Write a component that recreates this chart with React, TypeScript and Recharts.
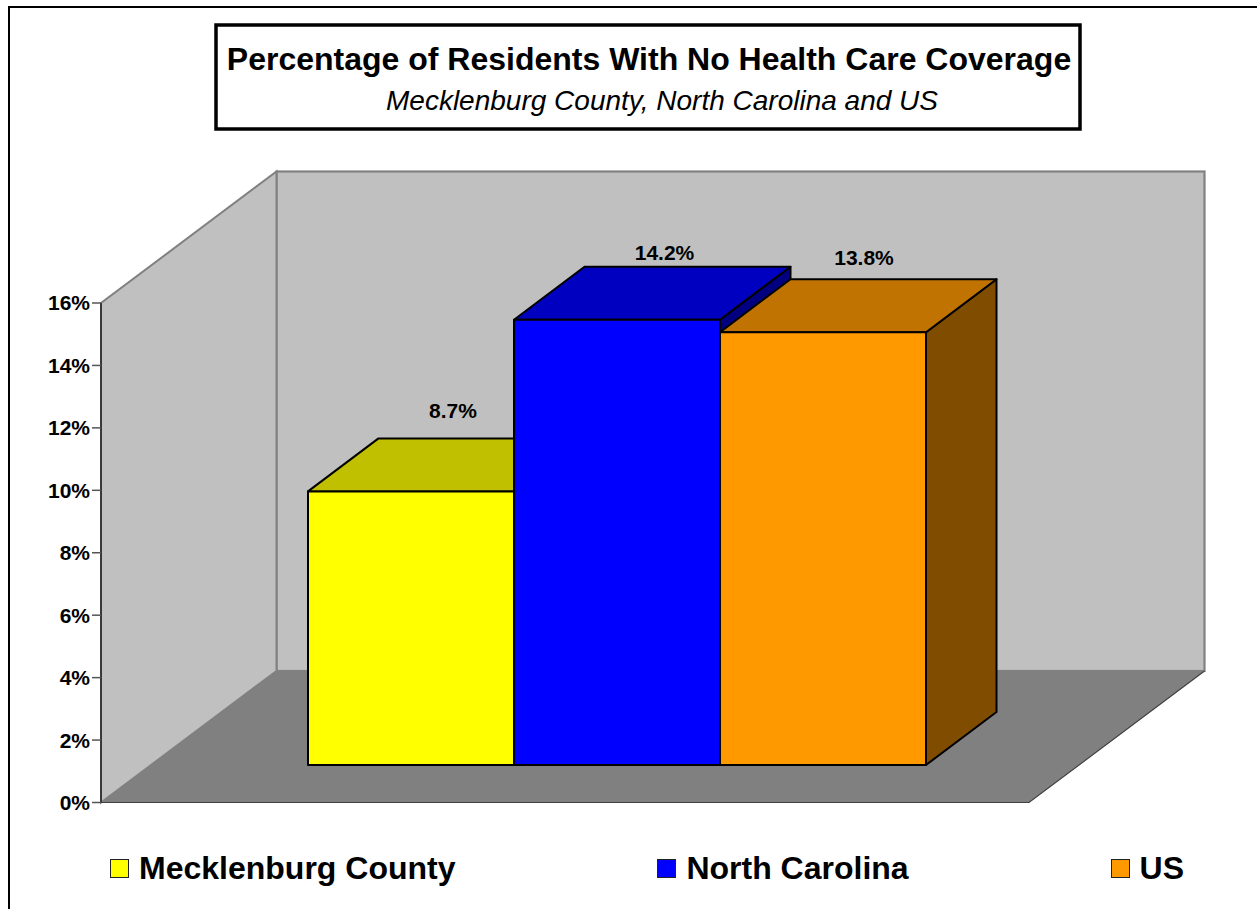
import React from 'react';
import { BarChart, Bar, XAxis, YAxis, Legend, LabelList, Customized, usePlotArea } from 'recharts';

const FONT = '"Liberation Sans", Arial, sans-serif';
const W = 1257;
const H = 909;

const titleText = 'Percentage of Residents With No Health Care Coverage';
const subtitleText = 'Mecklenburg County, North Carolina and US';
const category = 'Residents with no coverage';
const seriesNames = ['Mecklenburg County', 'North Carolina', 'US'];
const seriesValues = [8.7, 14.2, 13.8];
const yTicks = [0, 2, 4, 6, 8, 10, 12, 14, 16];
const frontColors = ['#FFFF00', '#0000FF', '#FF9900'];
const topColors = ['#C0C000', '#0000C0', '#C07300'];
const sideColors = ['#808000', '#000080', '#804D00'];

const row: Record<string, any> = { name: category };
seriesNames.forEach((n, i) => { row[n] = seriesValues[i]; });
const tableData = [row];

// 3D projection constants
const WALL_DX = 175.5;
const WALL_DY = -131.5;
const BAR_SHIFT_X = 52.5;
const BAR_BASE_SHIFT_Y = -37.5;
const BAR_TOP_SHIFT_Y = -39.5;
const BAR_DX = 70.5;
const BAR_DY = -53;
const LABEL_NUDGE = [
  { dx: 42, dy: -81 },
  { dx: 47.5, dy: -67 },
  { dx: 41, dy: -75 },
];

function Walls() {
  const p = usePlotArea();
  if (!p) return null;
  const l = p.x;
  const r = p.x + p.width;
  const t = p.y;
  const b = p.y + p.height;
  return (
    <g>
      <rect x={l + WALL_DX} y={t + WALL_DY} width={p.width} height={p.height} fill="#C0C0C0" stroke="#808080" strokeWidth={2.2} />
      <polygon points={`${l},${b} ${l},${t} ${l + WALL_DX},${t + WALL_DY} ${l + WALL_DX},${b + WALL_DY}`} fill="#C0C0C0" stroke="#808080" strokeWidth={2} />
      <polygon points={`${l},${b} ${r},${b} ${r + WALL_DX},${b + WALL_DY} ${l + WALL_DX},${b + WALL_DY}`} fill="#808080" />
      <polyline points={`${l},${b} ${r},${b} ${r + WALL_DX},${b + WALL_DY}`} fill="none" stroke="#404040" strokeWidth={1.2} />
    </g>
  );
}

function Frame() {
  return (
    <g>
      <rect x={9} y={7} width={W + 20} height={H + 20} fill="none" stroke="#000" strokeWidth={2} />
      <rect x={216} y={25} width={864} height={104} fill="#fff" stroke="#000" strokeWidth={3.5} />
      <text x={649} y={70} textAnchor="middle" fontFamily={FONT} fontWeight="bold" fontSize={32} fill="#000">{titleText}</text>
      <text x={662} y={109.5} textAnchor="middle" fontFamily={FONT} fontStyle="italic" fontSize={28} fill="#000">{subtitleText}</text>
    </g>
  );
}

function Bar3D(props: any) {
  const { x, y, width, height, fill, index3 } = props;
  const left = x + BAR_SHIFT_X;
  const right = left + width;
  const top = y + BAR_TOP_SHIFT_Y;
  const bottom = y + height + BAR_BASE_SHIFT_Y;
  const stroke = { stroke: '#000', strokeWidth: 2, strokeLinejoin: 'round' as const };
  return (
    <g>
      <polygon points={`${right},${bottom} ${right + BAR_DX},${bottom + BAR_DY} ${right + BAR_DX},${top + BAR_DY} ${right},${top}`} fill={sideColors[index3]} {...stroke} />
      <polygon points={`${left},${top} ${left + BAR_DX},${top + BAR_DY} ${right + BAR_DX},${top + BAR_DY} ${right},${top}`} fill={topColors[index3]} {...stroke} />
      <rect x={left} y={top} width={width} height={bottom - top} fill={fill} {...stroke} />
    </g>
  );
}

function BarLabel(props: any) {
  const { x, y, width, index3 } = props;
  const nudge = LABEL_NUDGE[index3];
  return (
    <text
      x={x + BAR_SHIFT_X + width / 2 + nudge.dx}
      y={y + BAR_TOP_SHIFT_Y + nudge.dy}
      textAnchor="middle"
      dominantBaseline="central"
      fontFamily={FONT}
      fontWeight="bold"
      fontSize={21}
      fill="#000"
    >
      {seriesValues[index3].toFixed(1)}%
    </text>
  );
}

function LegendRow(props: any) {
  const items = props.payload || [];
  return (
    <div style={{ display: 'flex', justifyContent: 'space-between', alignItems: 'center', fontFamily: FONT, fontWeight: 'bold', fontSize: 32, color: '#000', lineHeight: '36px' }}>
      {items.map((it: any) => (
        <div key={it.value} style={{ display: 'flex', alignItems: 'center' }}>
          <span style={{ display: 'inline-block', width: 17, height: 17, background: it.color, border: '1.5px solid #222', marginRight: 10 }} />
          <span>{it.value}</span>
        </div>
      ))}
    </div>
  );
}

export default function App() {
  return (
    <div style={{ position: 'absolute', left: 0, top: 0, width: W, height: H, overflow: 'hidden', background: '#fff' }}>
      <BarChart
        width={W}
        height={H}
        data={tableData}
        margin={{ top: 303, right: 228, bottom: 106.5, left: 0 }}
        barCategoryGap={154.5}
        barGap={0}
      >
        <Customized component={Frame} />
        <Customized component={Walls} />
        <XAxis dataKey="name" hide />
        <YAxis
          width={101}
          domain={[0, 16]}
          ticks={yTicks}
          interval={0}
          tickFormatter={(v: number) => `${v}%`}
          tickSize={9}
          tickMargin={2}
          axisLine={{ stroke: '#222', strokeWidth: 1.5 }}
          tickLine={{ stroke: '#555', strokeWidth: 1.5 }}
          tick={{ fontFamily: FONT, fontWeight: 'bold', fontSize: 21, fill: '#000' }}
        />
        <Legend
          content={<LegendRow />}
          wrapperStyle={{ position: 'absolute', left: 110, top: 850, width: 1074, height: 0, bottom: 'auto' }}
        />
        {seriesNames.map((n, i) => (
          <Bar
            key={n}
            dataKey={n}
            name={n}
            fill={frontColors[i]}
            isAnimationActive={false}
            shape={(p: any) => <Bar3D {...p} index3={i} />}
          >
            <LabelList dataKey={n} content={(p: any) => <BarLabel {...p} index3={i} />} />
          </Bar>
        ))}
      </BarChart>
    </div>
  );
}
